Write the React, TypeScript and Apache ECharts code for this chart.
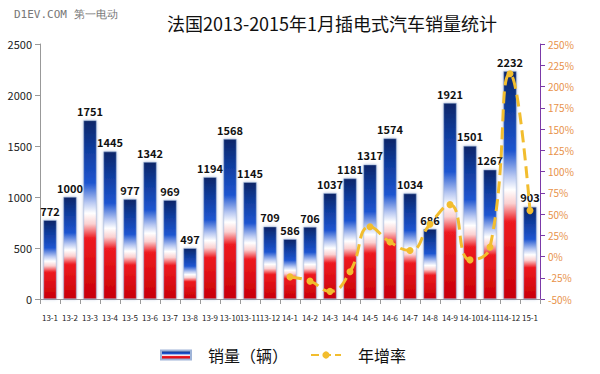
import React, { useEffect, useRef } from "react";
import * as echarts from "echarts";

const categories = ["13-1","13-2","13-3","13-4","13-5","13-6","13-7","13-8","13-9","13-10","13-11","13-12","14-1","14-2","14-3","14-4","14-5","14-6","14-7","14-8","14-9","14-10","14-11","14-12","15-1"];
const sales = [772,1000,1751,1445,977,1342,969,497,1194,1568,1145,709,586,706,1037,1181,1317,1574,1034,686,1921,1501,1267,2232,903];
const growth: (number | null)[] = [null,null,null,null,null,null,null,null,null,null,null,null,-24,-29,-41,-18,35,17,7,38,61,-4,11,215,54];

const FONT = "'Noto Sans CJK SC', 'Open Sans', sans-serif";

export default function App() {
  const ref = useRef<HTMLDivElement>(null);
  useEffect(() => {
    const chart = echarts.init(ref.current!, null, { renderer: "svg" });
    const barGrad = new echarts.graphic.LinearGradient(0, 0, 0, 1, [
      { offset: 0, color: "#0b2568" },
      { offset: 0.15, color: "#0f3a9a" },
      { offset: 0.35, color: "#1e55d0" },
      { offset: 0.46, color: "#b8c8f2" },
      { offset: 0.52, color: "#ffffff" },
      { offset: 0.58, color: "#fbd0d0" },
      { offset: 0.66, color: "#ee1a20" },
      { offset: 1, color: "#c80008" },
    ]);
    chart.setOption({
      animation: false,
      backgroundColor: "#ffffff",
      textStyle: { fontFamily: FONT },
      title: {
        text: "法国2013-2015年1月插电式汽车销量统计",
        left: 327,
        top: 9,
        textAlign: "center",
        textStyle: { fontSize: 18, fontWeight: "normal", color: "#111", fontFamily: FONT },
      },
      graphic: [
        {
          type: "text",
          left: 14,
          top: 9,
          style: { text: "D1EV.COM 第一电动", fontSize: 11, fill: "#777", fontFamily: "'DejaVu Sans Mono', monospace" },
        },
      ],
      legend: {
        bottom: 6,
        left: 155,
        itemGap: 22,
        itemWidth: 30,
        itemHeight: 9,
        textStyle: { fontSize: 16, color: "#111", padding: [0, 0, 0, 12] },
        data: [
          { name: "销量（辆）", icon: "rect" },
          { name: "年增率" },
        ],
      },
      grid: { left: 40, right: 60, top: 44, bottom: 75 },
      xAxis: {
        type: "category",
        data: categories,
        axisLine: { lineStyle: { color: "#999" } },
        axisTick: { show: true, lineStyle: { color: "#999" } },
        axisLabel: { interval: 0, fontSize: 8, color: "#222", margin: 14 },
      },
      yAxis: [
        {
          type: "value",
          min: 0,
          max: 2500,
          interval: 500,
          splitLine: { show: false },
          axisLine: { show: true, lineStyle: { color: "#999" } },
          axisTick: { show: true, lineStyle: { color: "#999" } },
          axisLabel: { fontSize: 11, color: "#222", formatter: (v: number) => String(v) },
        },
        {
          type: "value",
          min: -50,
          max: 250,
          interval: 25,
          position: "right",
          splitLine: { show: false },
          axisLine: { show: true, lineStyle: { color: "#7b3aa8" } },
          axisTick: { show: true, lineStyle: { color: "#7b3aa8" } },
          axisLabel: { fontSize: 10, color: "#e8924a", formatter: "{value}%" },
        },
      ],
      series: [
        {
          name: "销量（辆）",
          type: "bar",
          data: sales,
          barWidth: 13,
          itemStyle: {
            color: barGrad,
            borderColor: "#9fb4d8",
            borderWidth: 0.5,
            shadowBlur: 3,
            shadowColor: "rgba(80,110,180,0.5)",
          },
          label: {
            show: true,
            position: "top",
            fontSize: 11,
            fontWeight: "bold",
            color: "#111",
            distance: 4,
          },
        },
        {
          name: "年增率",
          type: "line",
          yAxisIndex: 1,
          data: growth,
          smooth: true,
          symbol: "circle",
          symbolSize: 7,
          lineStyle: { color: "#f2bd2e", width: 3, type: "dashed" },
          itemStyle: { color: "#f2bd2e" },
        },
      ],
    });
    return () => chart.dispose();
  }, []);
  return <div ref={ref} style={{ width: 600, height: 374, position: "absolute", left: 0, top: 0 }} />;
}
